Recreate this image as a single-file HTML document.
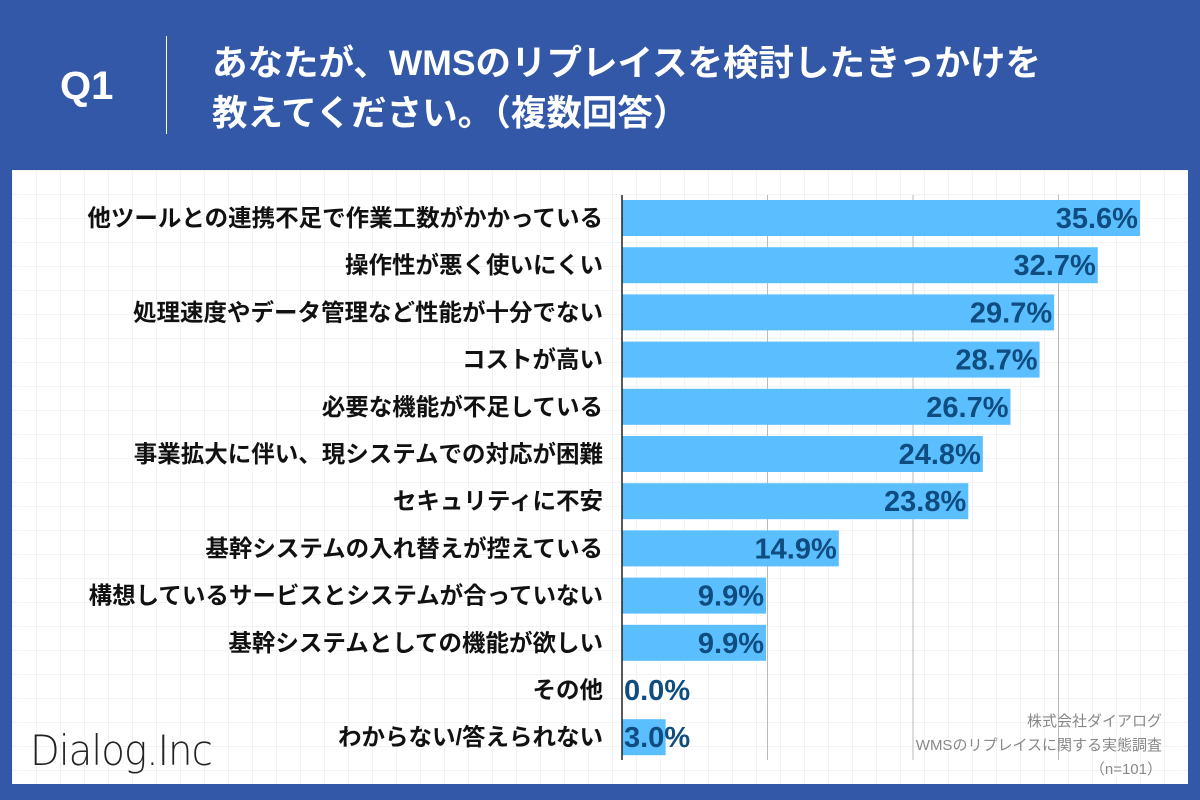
<!DOCTYPE html>
<html><head><meta charset="utf-8"><style>
body{margin:0;width:1200px;height:800px;background:#3358a8;overflow:hidden;font-family:"Liberation Sans","Noto Sans CJK JP",sans-serif;position:relative}
.abs{position:absolute}
</style></head><body>
<div class="abs" style="left:60px;top:64px;color:#fff;font-size:40px;font-weight:bold">Q1</div>
<div class="abs" style="left:166px;top:36px;width:1px;height:98px;background:#fff"></div>
<div class="abs" style="left:212px;top:38px;color:#fff;font-size:35.5px;font-weight:bold;line-height:50px;white-space:nowrap">あなたが、WMSのリプレイスを検討したきっかけを<br>教えてください。（複数回答）</div>
<div class="abs" style="left:12px;top:170px;width:1176px;height:614px;background:#fff;background-image:linear-gradient(#f1f3f6 1px,transparent 1px),linear-gradient(90deg,#f1f3f6 1px,transparent 1px);background-size:24px 24px"></div>
<svg class="abs" style="left:0;top:0" width="1200" height="800" id="chart"></svg>
<div class="abs" style="left:30px;top:726px;font-size:42px;color:#222;letter-spacing:-1px;font-family:'DejaVu Sans','Liberation Sans',sans-serif;font-weight:300;transform:scaleX(0.92);transform-origin:left">Dialog.Inc</div>
<div class="abs" style="right:38px;top:710px;text-align:right;font-size:15px;color:#888;line-height:24px">株式会社ダイアログ<br>WMSのリプレイスに関する実態調査<br>（n=101）</div>
<script>
const categories=["他ツールとの連携不足で作業工数がかかっている","操作性が悪く使いにくい","処理速度やデータ管理など性能が十分でない","コストが高い","必要な機能が不足している","事業拡大に伴い、現システムでの対応が困難","セキュリティに不安","基幹システムの入れ替えが控えている","構想しているサービスとシステムが合っていない","基幹システムとしての機能が欲しい","その他","わからない/答えられない"];
const values=[35.6,32.7,29.7,28.7,26.7,24.8,23.8,14.9,9.9,9.9,0.0,3.0];
const gridTicks=[10,20,30];
const svg=document.getElementById('chart');
const NS='http://www.w3.org/2000/svg';
const x0=622,pxPer=14.55;
const xs=v=>x0+v*pxPer;
const ys=i=>218+i*47.2;
function mk(t,a){const e=document.createElementNS(NS,t);for(const k in a)e.setAttribute(k,a[k]);svg.appendChild(e);return e;}
gridTicks.forEach(t=>{const l=mk('line',{x1:xs(t),x2:xs(t),y1:195,y2:760,stroke:'#bbb','stroke-width':1});

});
categories.forEach((c,i)=>{
const r=mk('rect',{x:x0,y:ys(i)-18,width:values[i]*pxPer,height:36,fill:'#5bbfff'});


const lb=mk('text',{x:603,y:ys(i)+8,'text-anchor':'end','font-size':23.5,'font-weight':'bold',fill:'#111'});
lb.textContent=c;


const w=values[i]*pxPer;const inside=w>90;
const vt=mk('text',{x:inside?x0+w-2:x0+2,y:ys(i)+10,'text-anchor':inside?'end':'start','font-size':29,'font-weight':'bold',fill:'#0f4c80'});
vt.textContent=values[i].toFixed(1)+'%';


});
const ax=mk('line',{x1:x0,x2:x0,y1:195,y2:760,stroke:'#222','stroke-width':1.5});


</script>
</body></html>
